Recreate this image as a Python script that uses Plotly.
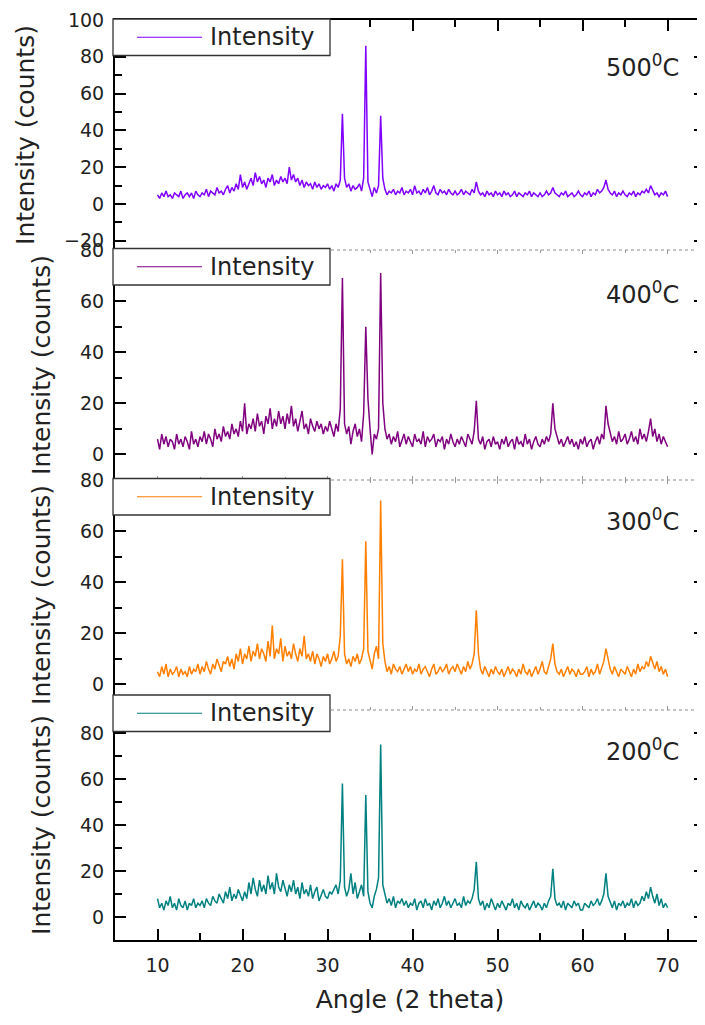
import plotly.graph_objects as go

# ---------------- data ----------------
ANGLE_START = 10.0   # first 2-theta value of the scan
ANGLE_STEP = 0.25    # scan step (degrees)

I_500 = [5, 3, 6, 4, 7, 4, 5, 3, 6, 5, 4, 7, 3, 5, 6, 4, 6, 3, 7, 5,
         4, 6, 5, 8, 4, 7, 6, 5, 9, 6, 7, 5, 8, 10, 6, 9, 7, 11, 8, 16,
         9, 12, 8, 11, 14, 10, 17, 12, 15, 11, 13, 9, 14, 12, 16, 10, 13, 11, 15, 12,
         14, 11, 20, 13, 16, 12, 14, 10, 13, 9, 12, 10, 11, 8, 12, 9, 11, 8, 10, 9,
         11, 8, 10, 7, 11, 9, 13, 49, 14, 9, 11, 7, 10, 8, 9, 11, 7, 14, 86, 12,
         8, 4, 9, 6, 10, 48, 14, 8, 5, 7, 6, 8, 5, 7, 6, 9, 5, 7, 6, 8,
         5, 10, 6, 7, 5, 8, 6, 9, 5, 7, 10, 6, 5, 8, 6, 7, 5, 8, 6, 5,
         7, 5, 6, 8, 5, 7, 6, 5, 8, 6, 12, 7, 5, 6, 4, 7, 5, 6, 4, 7,
         5, 6, 4, 7, 5, 6, 4, 5, 7, 4, 6, 5, 4, 6, 5, 7, 4, 6, 5, 4,
         6, 4, 5, 7, 5, 6, 9, 6, 5, 4, 6, 5, 7, 4, 5, 6, 4, 5, 7, 5,
         4, 6, 5, 7, 4, 6, 5, 8, 6, 7, 9, 13, 8, 6, 5, 7, 4, 6, 5, 7,
         5, 4, 6, 5, 7, 4, 6, 5, 7, 6, 8, 6, 10, 7, 5, 6, 4, 6, 5, 7,
         4]

I_400 = [6, 2, 8, 4, 7, 3, 6, 5, 2, 8, 4, 6, 3, 7, 5, 2, 9, 4, 6, 3,
         7, 5, 9, 4, 8, 6, 3, 10, 6, 8, 5, 11, 7, 9, 6, 12, 8, 10, 7, 13,
         9, 20, 8, 12, 10, 14, 9, 16, 11, 13, 8, 15, 12, 18, 10, 14, 11, 17, 12, 15,
         10, 16, 12, 19, 11, 14, 9, 13, 17, 10, 12, 8, 14, 11, 9, 13, 10, 12, 8, 11,
         9, 13, 10, 7, 12, 9, 18, 69, 12, 8, 11, 4, 9, 12, 7, 10, 5, 16, 50, 22,
         10, 0, 8, 6, 10, 71, 20, 10, 6, 8, 4, 7, 5, 9, 3, 6, 8, 4, 7, 5,
         3, 8, 5, 6, 4, 9, 3, 7, 5, 6, 8, 3, 6, 5, 7, 2, 6, 4, 8, 5,
         3, 6, 4, 7, 5, 3, 8, 6, 4, 9, 21, 6, 4, 7, 2, 5, 6, 3, 7, 4,
         5, 2, 6, 4, 7, 3, 5, 6, 2, 7, 4, 5, 3, 8, 4, 6, 2, 5, 7, 4,
         3, 6, 4, 7, 5, 8, 20, 10, 7, 4, 6, 3, 5, 7, 4, 6, 3, 5, 2, 6,
         4, 7, 3, 5, 6, 2, 5, 7, 4, 8, 6, 19, 12, 8, 5, 7, 4, 9, 5, 6,
         8, 4, 6, 9, 5, 7, 4, 10, 6, 8, 5, 9, 14, 7, 10, 5, 8, 4, 7, 5,
         3]

I_300 = [5, 3, 7, 4, 8, 3, 6, 4, 5, 7, 3, 6, 4, 5, 3, 7, 4, 6, 5, 8,
         4, 7, 5, 9, 6, 4, 8, 6, 10, 7, 5, 9, 8, 11, 7, 10, 6, 12, 9, 14,
         8, 12, 10, 15, 9, 13, 11, 16, 10, 14, 12, 9, 17, 11, 23, 10, 14, 12, 18, 9,
         15, 11, 13, 10, 16, 12, 9, 14, 11, 19, 10, 12, 9, 13, 8, 12, 10, 7, 11, 9,
         12, 8, 10, 13, 9, 11, 19, 49, 12, 8, 10, 7, 11, 9, 12, 8, 10, 14, 56, 13,
         9, 6, 12, 15, 10, 72, 16, 9, 5, 7, 4, 8, 6, 5, 7, 4, 6, 8, 5, 7,
         4, 6, 5, 8, 4, 6, 7, 5, 3, 6, 8, 4, 5, 7, 5, 6, 8, 4, 6, 7,
         5, 8, 6, 4, 7, 5, 9, 6, 8, 12, 29, 12, 6, 4, 7, 5, 3, 6, 4, 7,
         5, 4, 6, 3, 5, 7, 4, 6, 5, 3, 6, 4, 8, 5, 4, 6, 3, 5, 7, 4,
         6, 9, 5, 4, 7, 10, 16, 8, 5, 4, 6, 3, 5, 7, 4, 6, 5, 3, 6, 4,
         4, 5, 7, 3, 6, 4, 5, 8, 4, 7, 9, 14, 10, 6, 4, 7, 5, 3, 6, 5,
         4, 7, 5, 3, 6, 4, 8, 5, 7, 6, 9, 7, 11, 8, 6, 9, 5, 7, 4, 6,
         3]

I_200 = [8, 4, 6, 3, 7, 5, 9, 4, 6, 3, 8, 5, 4, 7, 3, 6, 5, 8, 4, 6,
         5, 7, 4, 8, 6, 5, 9, 7, 6, 10, 8, 6, 11, 8, 13, 7, 10, 8, 12, 9,
         7, 11, 8, 15, 10, 17, 12, 9, 16, 11, 14, 10, 18, 12, 15, 10, 19, 13, 11, 16,
         12, 9, 14, 11, 16, 10, 13, 8, 15, 10, 12, 9, 14, 8, 11, 13, 7, 10, 12, 9,
         8, 11, 10, 12, 14, 10, 16, 58, 13, 9, 12, 19, 10, 15, 8, 11, 14, 9, 53, 11,
         6, 4, 9, 12, 17, 75, 14, 10, 6, 8, 5, 9, 4, 7, 6, 8, 5, 7, 4, 6,
         5, 8, 3, 6, 7, 4, 8, 5, 6, 3, 7, 5, 8, 4, 6, 9, 5, 7, 4, 6,
         8, 5, 6, 4, 9, 5, 7, 6, 8, 12, 24, 8, 5, 7, 3, 6, 4, 8, 5, 3,
         6, 4, 7, 5, 3, 6, 5, 8, 4, 6, 3, 7, 5, 4, 6, 3, 5, 7, 4, 6,
         5, 3, 6, 4, 7, 9, 21, 8, 5, 6, 4, 7, 3, 6, 5, 4, 7, 5, 6, 3,
         3, 6, 5, 4, 7, 5, 6, 8, 5, 7, 10, 19, 9, 6, 4, 7, 3, 6, 5, 7,
         4, 6, 5, 8, 4, 7, 5, 6, 9, 7, 11, 8, 13, 9, 6, 10, 5, 8, 4, 6,
         4]

PANEL_LABELS = ["500<sup>0</sup>C", "400<sup>0</sup>C", "300<sup>0</sup>C", "200<sup>0</sup>C"]
SERIES_NAME = "Intensity"
Y_TITLE = "Intensity (counts)"
X_TITLE = "Angle (2 theta)"
Y_RANGES = [[-25, 100], [-10, 80], [-10, 80], [-10, 90]]
X_RANGE = [5, 74.4]

# ---------------- styling ----------------
COLORS = ["#8000FF", "#800080", "#FF8000", "#008080"]
FONT = "DejaVu Sans"
TXT = "#222222"
PAGE_OFF = 8                      # default body margin of the html page
W, H = 705 - PAGE_OFF, 1025 - PAGE_OFF
# plot-area edges expressed in page pixels
P_LEFT, P_RIGHT, P_TOP, P_BOTTOM = 115, 705, 20, 940
ML = P_LEFT - PAGE_OFF
MR = 0
MT = P_TOP - PAGE_OFF
MB = H - (P_BOTTOM - PAGE_OFF)
PW, PH = W - ML - MR, H - MT - MB


def pxx(p):
    return (p - P_LEFT) / PW


def pxy(p):
    return (P_BOTTOM - p) / PH


series = [I_500, I_400, I_300, I_200]
fig = go.Figure()
for k, vals in enumerate(series):
    angles = [ANGLE_START + ANGLE_STEP * i for i in range(len(vals))]
    sfx = "" if k == 0 else str(k + 1)
    fig.add_trace(go.Scatter(x=angles, y=vals, mode="lines", name=SERIES_NAME,
                             line=dict(color=COLORS[k], width=1.5),
                             xaxis="x" + sfx, yaxis="y" + sfx, showlegend=False,
                             hoverinfo="skip"))

layout = dict(width=W, height=H, margin=dict(l=ML, r=MR, t=MT, b=MB, pad=0),
              paper_bgcolor="white", plot_bgcolor="white", showlegend=False,
              font=dict(family=FONT, color=TXT))

for k in range(4):
    sfx = "" if k == 0 else str(k + 1)
    dom = [1 - (k + 1) / 4, 1 - k / 4]
    layout["yaxis" + sfx] = dict(
        domain=dom, range=Y_RANGES[k], anchor="x" + sfx, automargin=False,
        showline=True, linecolor="black", linewidth=2, mirror="ticks",
        dtick=20, tick0=0,
        ticks="inside", ticklen=11, tickwidth=1.5, tickcolor="black",
        minor=dict(dtick=10, ticks="inside", ticklen=7, tickwidth=1.5,
                   tickcolor="black"),
        showgrid=False, zeroline=False,
        tickfont=dict(size=19, color=TXT, family=FONT),
        ticklabelstandoff=5,
        title=dict(text=Y_TITLE, font=dict(size=25, color=TXT, family=FONT), standoff=22))
    xa = dict(domain=[0, 1], range=X_RANGE, anchor="y" + sfx, automargin=False,
              dtick=10, tick0=10, showgrid=False, zeroline=False)
    if k == 0:
        xa.update(side="top", showline=True, linecolor="black", linewidth=2,
                  showticklabels=False,
                  ticks="inside", ticklen=11, tickwidth=1.5, tickcolor="black",
                  minor=dict(dtick=5, ticks="inside", ticklen=7, tickwidth=1.5,
                             tickcolor="black"))
    elif k == 3:
        xa.update(side="bottom", showline=True, linecolor="black", linewidth=2,
                  ticks="inside", ticklen=11, tickwidth=1.5, tickcolor="black",
                  minor=dict(dtick=5, ticks="inside", ticklen=7, tickwidth=1.5,
                             tickcolor="black"),
                  tickfont=dict(size=19, color=TXT, family=FONT),
                  ticklabelstandoff=7,
                  title=dict(text=X_TITLE, font=dict(size=25, color=TXT, family=FONT),
                             standoff=16))
    else:
        xa.update(side="bottom", showline=False, mirror="ticks", showticklabels=False,
                  ticks="inside", ticklen=4, tickwidth=1, tickcolor="#9a9a9a",
                  minor=dict(dtick=5, ticks="inside", ticklen=3, tickwidth=1,
                             tickcolor="#9a9a9a"))
    layout["xaxis" + sfx] = xa

shapes = []
annotations = []
for b in [0.25, 0.5, 0.75]:
    shapes.append(dict(type="line", xref="paper", yref="paper", x0=0, x1=1, y0=b, y1=b,
                       line=dict(color="#8a8a8a", width=1, dash="dot"), layer="above"))

box_tops = [19, 248.5, 478.5, 695]
BOX_H = 36.5
for k in range(4):
    t, b = box_tops[k], box_tops[k] + BOX_H
    shapes.append(dict(type="rect", xref="paper", yref="paper",
                       x0=pxx(113), x1=pxx(330), y0=pxy(b), y1=pxy(t),
                       fillcolor="white", line=dict(color="#333333", width=1.3),
                       layer="above"))
    yc = pxy((t + b) / 2)
    shapes.append(dict(type="line", xref="paper", yref="paper",
                       x0=pxx(137), x1=pxx(202), y0=yc, y1=yc,
                       line=dict(color=COLORS[k], width=1.2), layer="above"))
    annotations.append(dict(xref="paper", yref="paper", x=pxx(208), y=yc,
                            xanchor="left", yanchor="middle", showarrow=False,
                            text=SERIES_NAME, font=dict(size=24, color=TXT, family=FONT)))

label_y = [66, 293, 520, 750]
for k in range(4):
    annotations.append(dict(xref="paper", yref="paper", x=pxx(681), y=pxy(label_y[k]),
                            xanchor="right", yanchor="middle", showarrow=False,
                            text=PANEL_LABELS[k], font=dict(size=24, color=TXT, family=FONT)))

layout["shapes"] = shapes
layout["annotations"] = annotations
fig.update_layout(**layout)
fig.write_html("out.html")
